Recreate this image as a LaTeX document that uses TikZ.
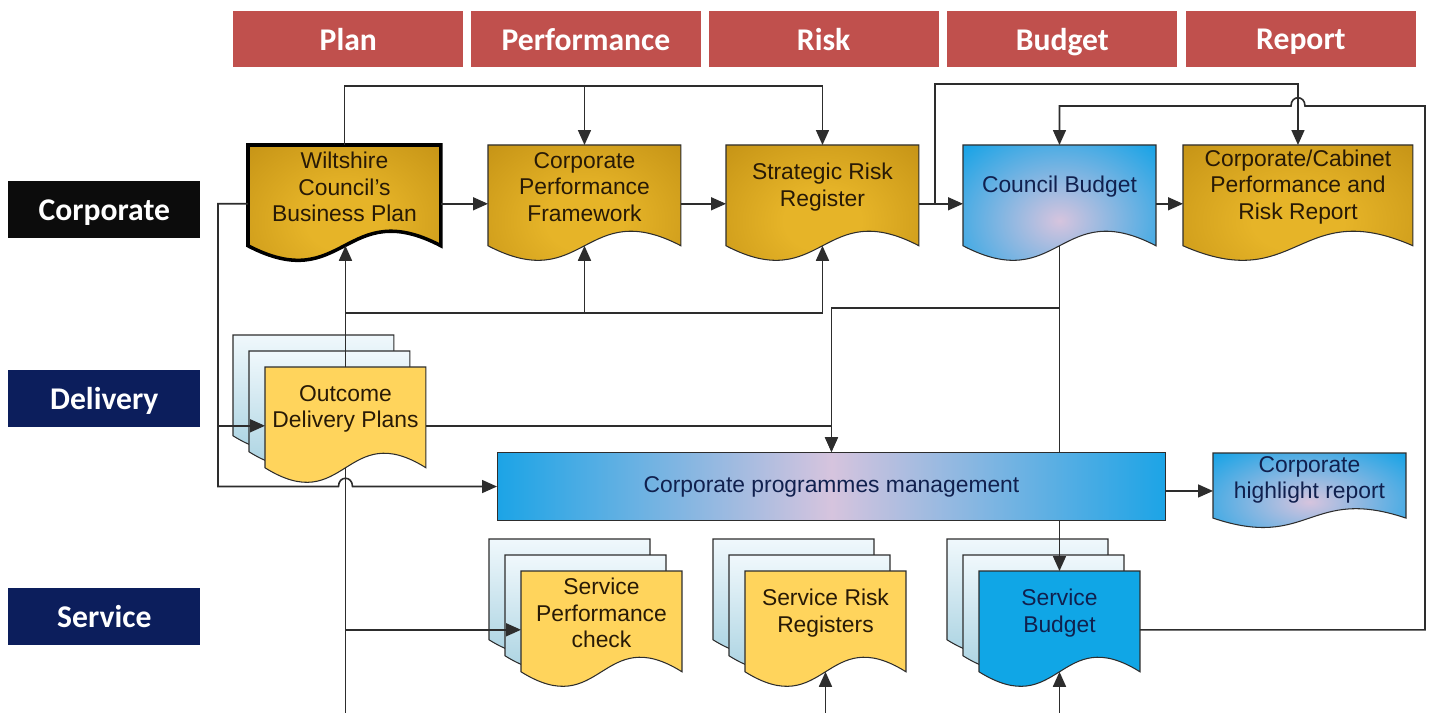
\documentclass[tikz,border=0pt]{standalone}
\usepackage{fontspec}
\setmainfont{Liberation Sans}
\newfontfamily\lanefont{Carlito}
\usepackage{xcolor}
\usepackage{tikz}
\usetikzlibrary{positioning,calc,arrows.meta}

\definecolor{hdrred}{RGB}{192,80,77}
\definecolor{lanenavy}{RGB}{12,30,92}
\definecolor{laneblack}{RGB}{12,12,12}
\definecolor{golddark}{RGB}{180,130,12}
\definecolor{goldlight}{RGB}{230,180,40}
\definecolor{paleyellow}{RGB}{255,212,92}
\definecolor{skyblue}{RGB}{28,164,230}
\definecolor{lavender}{RGB}{214,196,222}
\definecolor{budgetblue}{RGB}{16,166,230}
\definecolor{stacktop}{RGB}{240,248,252}
\definecolor{stackbot}{RGB}{150,200,218}
\definecolor{docline}{RGB}{45,45,45}
\definecolor{goldtext}{RGB}{40,26,6}
\definecolor{bluetext}{RGB}{16,32,78}

\pgfdeclareradialshading{goldglow}{\pgfpoint{0bp}{0bp}}{color(0bp)=(goldlight); color(10bp)=(goldlight); color(50bp)=(golddark)}
\pgfdeclareradialshading{blueglow}{\pgfpoint{0bp}{0bp}}{color(0bp)=(lavender); color(34bp)=(skyblue); color(50bp)=(skyblue)}

% document shape: flat top, wavy bottom
\makeatletter
\pgfdeclareshape{docshape}{%
  \inheritsavedanchors[from=rectangle]%
  \inheritanchorborder[from=rectangle]%
  \inheritanchor[from=rectangle]{center}%
  \inheritanchor[from=rectangle]{north}%
  \inheritanchor[from=rectangle]{south}%
  \inheritanchor[from=rectangle]{east}%
  \inheritanchor[from=rectangle]{west}%
  \inheritanchor[from=rectangle]{north east}%
  \inheritanchor[from=rectangle]{north west}%
  \inheritanchor[from=rectangle]{south east}%
  \inheritanchor[from=rectangle]{south west}%
  \anchor{wave}{%
    \southwest \pgf@xa=\pgf@x \pgf@ya=\pgf@y
    \northeast
    \pgf@x=.5\pgf@x \advance\pgf@x by .5\pgf@xa
    \pgf@y=-.2\pgf@y \advance\pgf@y by 1.2\pgf@ya
  }%
  \anchor{body east}{%
    \southwest \pgf@ya=\pgf@y
    \northeast
    \pgf@y=.3\pgf@y \advance\pgf@y by .7\pgf@ya
  }%
  \anchor{body west}{%
    \northeast \pgf@ya=\pgf@y
    \southwest
    \pgf@y=.7\pgf@y \advance\pgf@y by .3\pgf@ya
  }%
  \backgroundpath{%
    \southwest \pgf@xa=\pgf@x \pgf@ya=\pgf@y
    \northeast \pgf@xb=\pgf@x \pgf@yb=\pgf@y
    \pgf@xc=.5\pgf@xa \advance\pgf@xc by .5\pgf@xb
    \pgf@yc=\pgf@yb \advance\pgf@yc by -\pgf@ya
    \edef\docxa{\the\pgf@xa}\edef\docxb{\the\pgf@xb}\edef\docxm{\the\pgf@xc}%
    \edef\docyn{\the\pgf@yb}%
    \pgf@y=1.2\pgf@ya \advance\pgf@y by -.2\pgf@yb \edef\docye{\the\pgf@y}%
    \advance\pgf@y by .6\pgf@yc \edef\docyu{\the\pgf@y}%
    \advance\pgf@y by -1.2\pgf@yc \edef\docyd{\the\pgf@y}%
    \pgfpathmoveto{\pgfqpoint{\docxa}{\docyn}}%
    \pgfpathlineto{\pgfqpoint{\docxb}{\docyn}}%
    \pgfpathlineto{\pgfqpoint{\docxb}{\docye}}%
    \pgfpathcurveto{\pgfqpoint{\docxm}{\docyu}}{\pgfqpoint{\docxm}{\docyd}}{\pgfqpoint{\docxa}{\docye}}%
    \pgfpathclose
  }%
}
\makeatother

\begin{document}
\begin{tikzpicture}[x=0.02cm, y=-0.02cm, >={Triangle[length=0.3cm,width=0.26cm]},
  every node/.style={font=\fontsize{13}{15.1}\selectfont}]
  % Styles
  \tikzstyle{hdr}=[rectangle, fill=hdrred, text=white, minimum width=4.6cm, minimum height=1.12cm, inner sep=0pt, text depth=0pt, font=\lanefont\bfseries\fontsize{18}{20}\selectfont]
  \tikzstyle{lane}=[rectangle, text=white, minimum width=3.84cm, minimum height=1.14cm, inner sep=0pt, text depth=0pt, anchor=north west, font=\lanefont\bfseries\fontsize{18}{20}\selectfont]
  \tikzstyle{doc}=[shape=docshape, draw=docline, line width=0.6pt, align=center, inner sep=2pt, outer sep=0pt, anchor=north west, minimum width=3.86cm, minimum height=1.68cm]
  \tikzstyle{golddoc}=[doc, shade, shading=goldglow, text=goldtext]
  \tikzstyle{bluedoc}=[doc, shade, shading=blueglow, text=bluetext]
  \tikzstyle{servdoc}=[doc, minimum width=3.22cm]
  \tikzstyle{backdoc}=[servdoc, top color=stacktop, bottom color=stackbot]
  \tikzstyle{link}=[->, line width=0.9pt, draw=docline]

  \path[use as bounding box, fill=white] (0,0) rectangle (1434,713);

  % Column headers
  \node[hdr, anchor=north west] (hplan) at (233,11) {Plan};
  \node[hdr, right=0.14cm of hplan] (hperf) {Performance};
  \node[hdr, right=0.14cm of hperf] (hrisk) {Risk};
  \node[hdr, right=0.16cm of hrisk] (hbudget) {Budget};
  \node[hdr, right=0.16cm of hbudget] (hreport) {Report};

  % Row labels
  \node[lane, fill=laneblack] (lcorp) at (8,181) {Corporate};
  \node[lane, fill=lanenavy] (ldel) at (8,370) {Delivery};
  \node[lane, fill=lanenavy] (lserv) at (8,588) {Service};

  % Corporate row
  \node[golddoc, draw=black, line width=2pt] (wbp) at (248,145) {Wiltshire\\Council's\\Business Plan};
  \node[golddoc] (cpf) at (488,145) {Corporate\\Performance\\Framework};
  \node[golddoc] (srr) at (726,145) {Strategic Risk\\Register};
  \node[bluedoc] (cb) at (963,145) {Council Budget};
  \node[golddoc, minimum width=4.6cm] (ccp) at (1183,145) {Corporate/Cabinet\\Performance and\\Risk Report};

  % Delivery row
  \foreach \s in {32,16} \node[backdoc] (odpb\s) at (265-\s,367-\s) {};
  \node[servdoc, fill=paleyellow, text=goldtext] (odp) at (265,367) {Outcome\\Delivery Plans};
  \node[rectangle, draw=docline, line width=0.6pt, left color=skyblue, right color=skyblue, middle color=lavender,
        minimum width=13.36cm, minimum height=1.36cm, anchor=north west, text=bluetext] (cpm) at (497,452) {Corporate programmes management};
  \node[bluedoc, minimum height=1.0cm] (chr) at (1213,453) {Corporate\\highlight report};

  % Service row
  \foreach \s in {32,16} \node[backdoc] (spcb\s) at (521-\s,571-\s) {};
  \node[servdoc, fill=paleyellow, text=goldtext] (spc) at (521,571) {Service\\Performance\\check};
  \foreach \s in {32,16} \node[backdoc] (srrsb\s) at (745-\s,571-\s) {};
  \node[servdoc, fill=paleyellow, text=goldtext] (srrs) at (745,571) {Service Risk\\Registers};
  \foreach \s in {32,16} \node[backdoc] (sbb\s) at (979-\s,571-\s) {};
  \node[servdoc, fill=budgetblue, text=bluetext] (sb) at (979,571) {Service\\Budget};

  % Corporate row arrows
  \draw[link] (wbp.body east) -- (cpf.body west);
  \draw[link] (cpf.body east) -- (srr.body west);
  \draw[link] (srr.body east) -- (cb.body west);
  \draw[link] (cb.body east) -- (ccp.body west);

  % Business plan over the top
  \coordinate (ptop) at (wbp.north |- 0,86);
  \draw[link] (wbp.north) -- (ptop) -| (srr.north);
  \draw[link] (cpf.north |- ptop) -- (cpf.north);

  % Risk register up to the cabinet report
  \coordinate (rj) at ($(srr.body east)+(16,0)$);
  \draw[link] (rj) -- (rj |- 0,84) -| (ccp.north);

  % Service budget back to council budget
  \coordinate (rt) at (1425,106);
  \coordinate (hp) at (ccp.north |- rt);
  \draw[link] (sb.body east) -| (rt) -- ($(hp)+(7,0)$) .. controls ($(hp)+(7,-11)$) and ($(hp)+(-7,-11)$) .. ($(hp)+(-7,0)$) -| (cb.north);

  % Council budget down
  \draw[docline, line width=0.9pt] (cb.wave) -- (cb.wave |- cpm.north);
  \draw[link] (cb.wave |- 0,308) -| (cpm.north);
  \draw[link] (cpm.south -| sb.north) -- (sb.north);

  % Outcome delivery plans
  \draw[link] (odp.body east) -| (cpm.north);
  \draw[link] (odp.north) -- (odp.north |- wbp.wave);
  \coordinate (pj) at (odp.north |- 0,313);
  \draw[link] (pj) -| (srr.wave);
  \draw[link] (cpf.wave |- pj) -- (cpf.wave);

  % Left loop from the business plan
  \coordinate (lft) at ($(wbp.body west)+(-30,0)$);
  \coordinate (hx) at (odp.wave |- cpm.west);
  \draw[link] (wbp.body west) -| (lft |- cpm.west) -- ($(hx)+(-7,0)$) .. controls ($(hx)+(-7,-11)$) and ($(hx)+(7,-11)$) .. ($(hx)+(7,0)$) -- (cpm.west);
  \draw[link] (lft |- odp.body west) -- (odp.body west);

  % Down the page
  \draw[docline, line width=0.9pt] (odp.wave) -- (odp.wave |- 0,713);
  \draw[link] (odp.wave |- spc.body west) -- (spc.body west);
  \draw[link] (srrs.wave |- 0,713) -- (srrs.wave);
  \draw[link] (sb.wave |- 0,713) -- (sb.wave);

  % Highlight report
  \draw[link] (cpm.east |- chr.body west) -- (chr.body west);
\end{tikzpicture}
\end{document}
